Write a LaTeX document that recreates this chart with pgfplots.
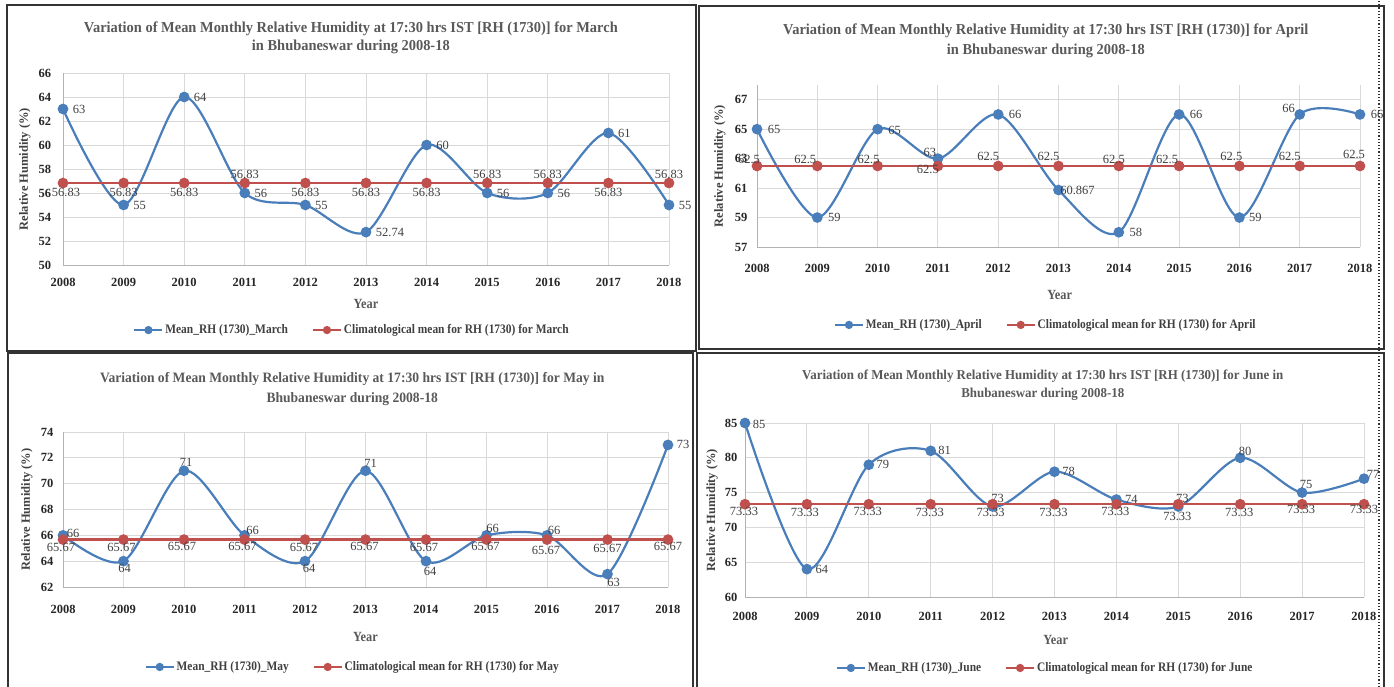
\documentclass[border=0pt]{standalone}
\usepackage{pgfplots}
\pgfplotsset{compat=1.18}
\usepackage{pgfplotstable}
\usepackage{fontspec}
\setmainfont{Liberation Serif}
\newfontfamily\cf[FakeStretch=0.88]{Liberation Serif}
\newfontfamily\tf[FakeStretch=0.95]{Liberation Serif}
\definecolor{rhblue}{HTML}{4A7EBB}
\definecolor{rhred}{HTML}{C0504D}
\definecolor{gridc}{HTML}{D9D9D9}
\definecolor{txt}{HTML}{595959}
\definecolor{dk}{HTML}{404040}

% ---------- data: x y label dx dy (label offsets in px) ----------
\pgfplotstableread{
x y lab dx dy
2008 63 63 16 0
2009 55 55 16 0
2010 64 64 16 0
2011 56 56 16 0
2012 55 55 16 0
2013 52.74 52.74 24 0
2014 60 60 16 0
2015 56 56 16 0
2016 56 56 16 0
2017 61 61 16 0
2018 55 55 16 0
}\marB
\pgfplotstableread{
x y lab dx dy
2008 56.83 56.83 3 -9
2009 56.83 56.83 0 -9
2010 56.83 56.83 0 -9
2011 56.83 56.83 0 9
2012 56.83 56.83 0 -9
2013 56.83 56.83 0 -9
2014 56.83 56.83 0 -9
2015 56.83 56.83 0 9
2016 56.83 56.83 0 9
2017 56.83 56.83 0 -9
2018 56.83 56.83 0 9
}\marR
\pgfplotstableread{
x y lab dx dy
2008 65 65 17 0
2009 59 59 17 0
2010 65 65 17 -1
2011 63 63 -8 6
2012 66 66 17 0
2013 60.867 60.867 19 0
2014 58 58 17 0
2015 66 66 17 0
2016 59 59 16 0
2017 66 66 -11 6
2018 66 66 17 0
}\aprB
\pgfplotstableread{
x y lab dx dy
2008 62.5 62.5 -8 7
2009 62.5 62.5 -12 7
2010 62.5 62.5 -9 7
2011 62.5 62.5 -10 -3
2012 62.5 62.5 -10 10
2013 62.5 62.5 -10 10
2014 62.5 62.5 -5 7
2015 62.5 62.5 -12 7
2016 62.5 62.5 -8 10
2017 62.5 62.5 -10 10
2018 62.5 62.5 -6 12
}\aprR
\pgfplotstableread{
x y lab dx dy
2008 66 66 10 2
2009 64 64 1 -7
2010 71 71 2 8
2011 66 66 8 5
2012 64 64 4 -7
2013 71 71 5 7
2014 64 64 4 -10
2015 66 66 6 7
2016 66 66 7 5
2017 63 63 6 -8
2018 73 73 15 0
}\mayB
\pgfplotstableread{
x y lab dx dy
2008 65.67 65.67 -2 -8
2009 65.67 65.67 -2 -8
2010 65.67 65.67 -2 -7
2011 65.67 65.67 -2 -7
2012 65.67 65.67 -1 -8
2013 65.67 65.67 -1 -7
2014 65.67 65.67 -2 -8
2015 65.67 65.67 -1 -7
2016 65.67 65.67 -1 -11
2017 65.67 65.67 0 -9
2018 65.67 65.67 0 -7
}\mayR
\pgfplotstableread{
x y lab dx dy
2008 85 85 14 -1
2009 64 64 15 0
2010 79 79 14 0
2011 81 81 14 0
2012 73 73 5 8
2013 78 78 14 0
2014 74 74 15 0
2015 73 73 4 8
2016 80 80 5 6
2017 75 75 4 8
2018 77 77 9 4
}\junB
\pgfplotstableread{
x y lab dx dy
2008 73.33 73.33 -1 -7
2009 73.33 73.33 -2 -8
2010 73.33 73.33 -1 -7
2011 73.33 73.33 -1 -8
2012 73.33 73.33 -2 -8
2013 73.33 73.33 -1 -8
2014 73.33 73.33 -1 -7
2015 73.33 73.33 -1 -12
2016 73.33 73.33 -1 -8
2017 73.33 73.33 -1 -5
2018 73.33 73.33 0 -5
}\junR

\pgfplotsset{
  rhax/.style={
    scale only axis, clip=false, anchor=south west,
    xmin=2008, xmax=2018, xtick={2008,2009,...,2018},
    axis lines*=left,
    axis line style={draw=black!30, line width=0.8pt},
    grid=major, major grid style={draw=gridc, line width=0.8pt},
    major tick length=0pt,
    /pgf/number format/assume math mode=true,
    /pgf/number format/1000 sep={},
    tick label style={font=\bfseries\fontsize{12.5}{12.5}\selectfont, text=black!85},
    xlabel={Year}, ylabel={Relative Humidity (\%)},
    every axis x label/.style={anchor=center, font=\cf\bfseries\fontsize{14}{14}\selectfont, text=txt},
    every axis y label/.style={rotate=90, anchor=center, font=\bfseries\fontsize{12.5}{13}\selectfont, text=dk},
    title style={anchor=center, align=center, text=txt, yshift=-8pt},
    legend columns=2,
    legend cell align=left,
    legend style={draw=none, fill=none, anchor=center, font=\cf\bfseries\fontsize{13}{13}\selectfont, text=dk,
      /tikz/every even column/.append style={column sep=22pt}},
    legend image code/.code={\draw[mark repeat=2,mark phase=2,##1,line width=1.8pt,mark size=3.2pt] plot coordinates {(0pt,0pt) (14pt,0pt) (28pt,0pt)};},
  },
  sB/.style={color=rhblue, line width=2.2pt, smooth, tension=0.5, mark=*, mark size=4.2pt, mark options={fill=rhblue}},
  sR/.style={color=rhred, line width=2.2pt, mark=*, mark size=4.2pt, mark options={fill=rhred}},
  lbl/.style={
    forget plot,
    nodes near coords,
    point meta=explicit symbolic,
    visualization depends on={\thisrow{dx}\as\ldx},
    visualization depends on={\thisrow{dy}\as\ldy},
    every node near coord/.append style={anchor=center, xshift=\ldx*1pt, yshift=\ldy*1pt,
      font=\fontsize{12.5}{12.5}\selectfont, text=dk, inner sep=0pt},
  },
}

\begin{document}
\begin{tikzpicture}[x=1pt,y=1pt]
\useasboundingbox (0,0) rectangle (1394,687);
% frames
\draw[black!80, line width=1.5pt] (7,336) rectangle (696,682);
\draw[black!80, line width=1.5pt] (699,338) rectangle (1384,681);
\draw[black!80, line width=1.5pt] (8,-5) rectangle (693,334);
\draw[black!80, line width=1.5pt] (697,-5) rectangle (1384,334);

% ---------------- March ----------------
\begin{axis}[rhax, at={(63pt,422pt)}, width=606pt, height=192pt,
  ymin=50, ymax=66, ytick={50,52,...,66},
  title={Variation of Mean Monthly Relative Humidity at 17:30 hrs IST [RH (1730)] for March\\in Bhubaneswar during 2008-18},
  title style={at={(axis description cs:0.475,1.193)}, font=\tf\bfseries\fontsize{15.2}{18}\selectfont},
  xlabel style={at={(axis description cs:0.5,-0.203)}},
  ylabel style={at={(axis description cs:-0.0627,0.5)}},
  xticklabel style={anchor=center, yshift=-17pt},
  yticklabel style={anchor=center, xshift=-18pt},
  legend style={at={(0.477,-0.339)}},
]
\addlegendimage{sB}
\addlegendentry{Mean\_RH (1730)\_March}
\addlegendimage{sR}
\addlegendentry{Climatological mean for RH (1730) for March}
\addplot[sB, lbl] table[x=x,y=y,meta=lab] {\marB};
\addplot[sR, lbl] table[x=x,y=y,meta=lab] {\marR};
\end{axis}

% ---------------- April ----------------
\begin{axis}[rhax, at={(757pt,440pt)}, width=603pt, height=162pt,
  ymin=57, ymax=68, ytick={57,59,...,67},
  title={Variation of Mean Monthly Relative Humidity at 17:30 hrs IST [RH (1730)] for April\\in Bhubaneswar during 2008-18},
  title style={at={(axis description cs:0.479,1.284)}, font=\tf\bfseries\fontsize{15.2}{20}\selectfont},
  xlabel style={at={(axis description cs:0.502,-0.296)}},
  ylabel style={at={(axis description cs:-0.0614,0.5)}},
  xticklabel style={anchor=center, yshift=-21pt},
  yticklabel style={anchor=center, xshift=-16pt},
  legend style={at={(0.479,-0.481)}},
]
\addlegendimage{sB}
\addlegendentry{Mean\_RH (1730)\_April}
\addlegendimage{sR}
\addlegendentry{Climatological mean for RH (1730) for April}
\addplot[sB, lbl] table[x=x,y=y,meta=lab] {\aprB};
\addplot[sR, lbl] table[x=x,y=y,meta=lab] {\aprR};
\end{axis}

% ---------------- May ----------------
\begin{axis}[rhax, at={(63pt,100pt)}, width=605pt, height=155pt,
  ymin=62, ymax=74, ytick={62,64,...,74},
  title={Variation of Mean Monthly Relative Humidity at 17:30 hrs IST [RH (1730)] for May in\\Bhubaneswar during 2008-18},
  title style={at={(axis description cs:0.478,1.29)}, font=\tf\bfseries\fontsize{14.3}{20}\selectfont},
  xlabel style={at={(axis description cs:0.5,-0.323)}},
  ylabel style={at={(axis description cs:-0.0595,0.5)}},
  xticklabel style={anchor=center, yshift=-22pt},
  yticklabel style={anchor=center, xshift=-16pt},
  legend style={at={(0.479,-0.516)}},
]
\addlegendimage{sB}
\addlegendentry{Mean\_RH (1730)\_May}
\addlegendimage{sR}
\addlegendentry{Climatological mean for RH (1730) for May}
\addplot[sB, lbl] table[x=x,y=y,meta=lab] {\mayB};
\addplot[sR, lbl] table[x=x,y=y,meta=lab] {\mayR};
\end{axis}

% ---------------- June ----------------
\begin{axis}[rhax, at={(745pt,90pt)}, width=619pt, height=174pt,
  ymin=60, ymax=85, ytick={60,65,...,85},
  title={Variation of Mean Monthly Relative Humidity at 17:30 hrs IST [RH (1730)] for June in\\Bhubaneswar during 2008-18},
  title style={at={(axis description cs:0.481,1.23)}, font=\tf\bfseries\fontsize{13.6}{18}\selectfont},
  xlabel style={at={(axis description cs:0.502,-0.247)}},
  ylabel style={at={(axis description cs:-0.0533,0.5)}},
  xticklabel style={anchor=center, yshift=-19pt},
  yticklabel style={anchor=center, xshift=-14pt},
  legend style={at={(0.485,-0.408)}},
]
\addlegendimage{sB}
\addlegendentry{Mean\_RH (1730)\_June}
\addlegendimage{sR}
\addlegendentry{Climatological mean for RH (1730) for June}
\addplot[sB, lbl] table[x=x,y=y,meta=lab] {\junB};
\addplot[sR, lbl] table[x=x,y=y,meta=lab] {\junR};
\end{axis}

\draw[black!80, line width=1.2pt, dotted] (1379,0) -- (1379,687);
\end{tikzpicture}
\end{document}
